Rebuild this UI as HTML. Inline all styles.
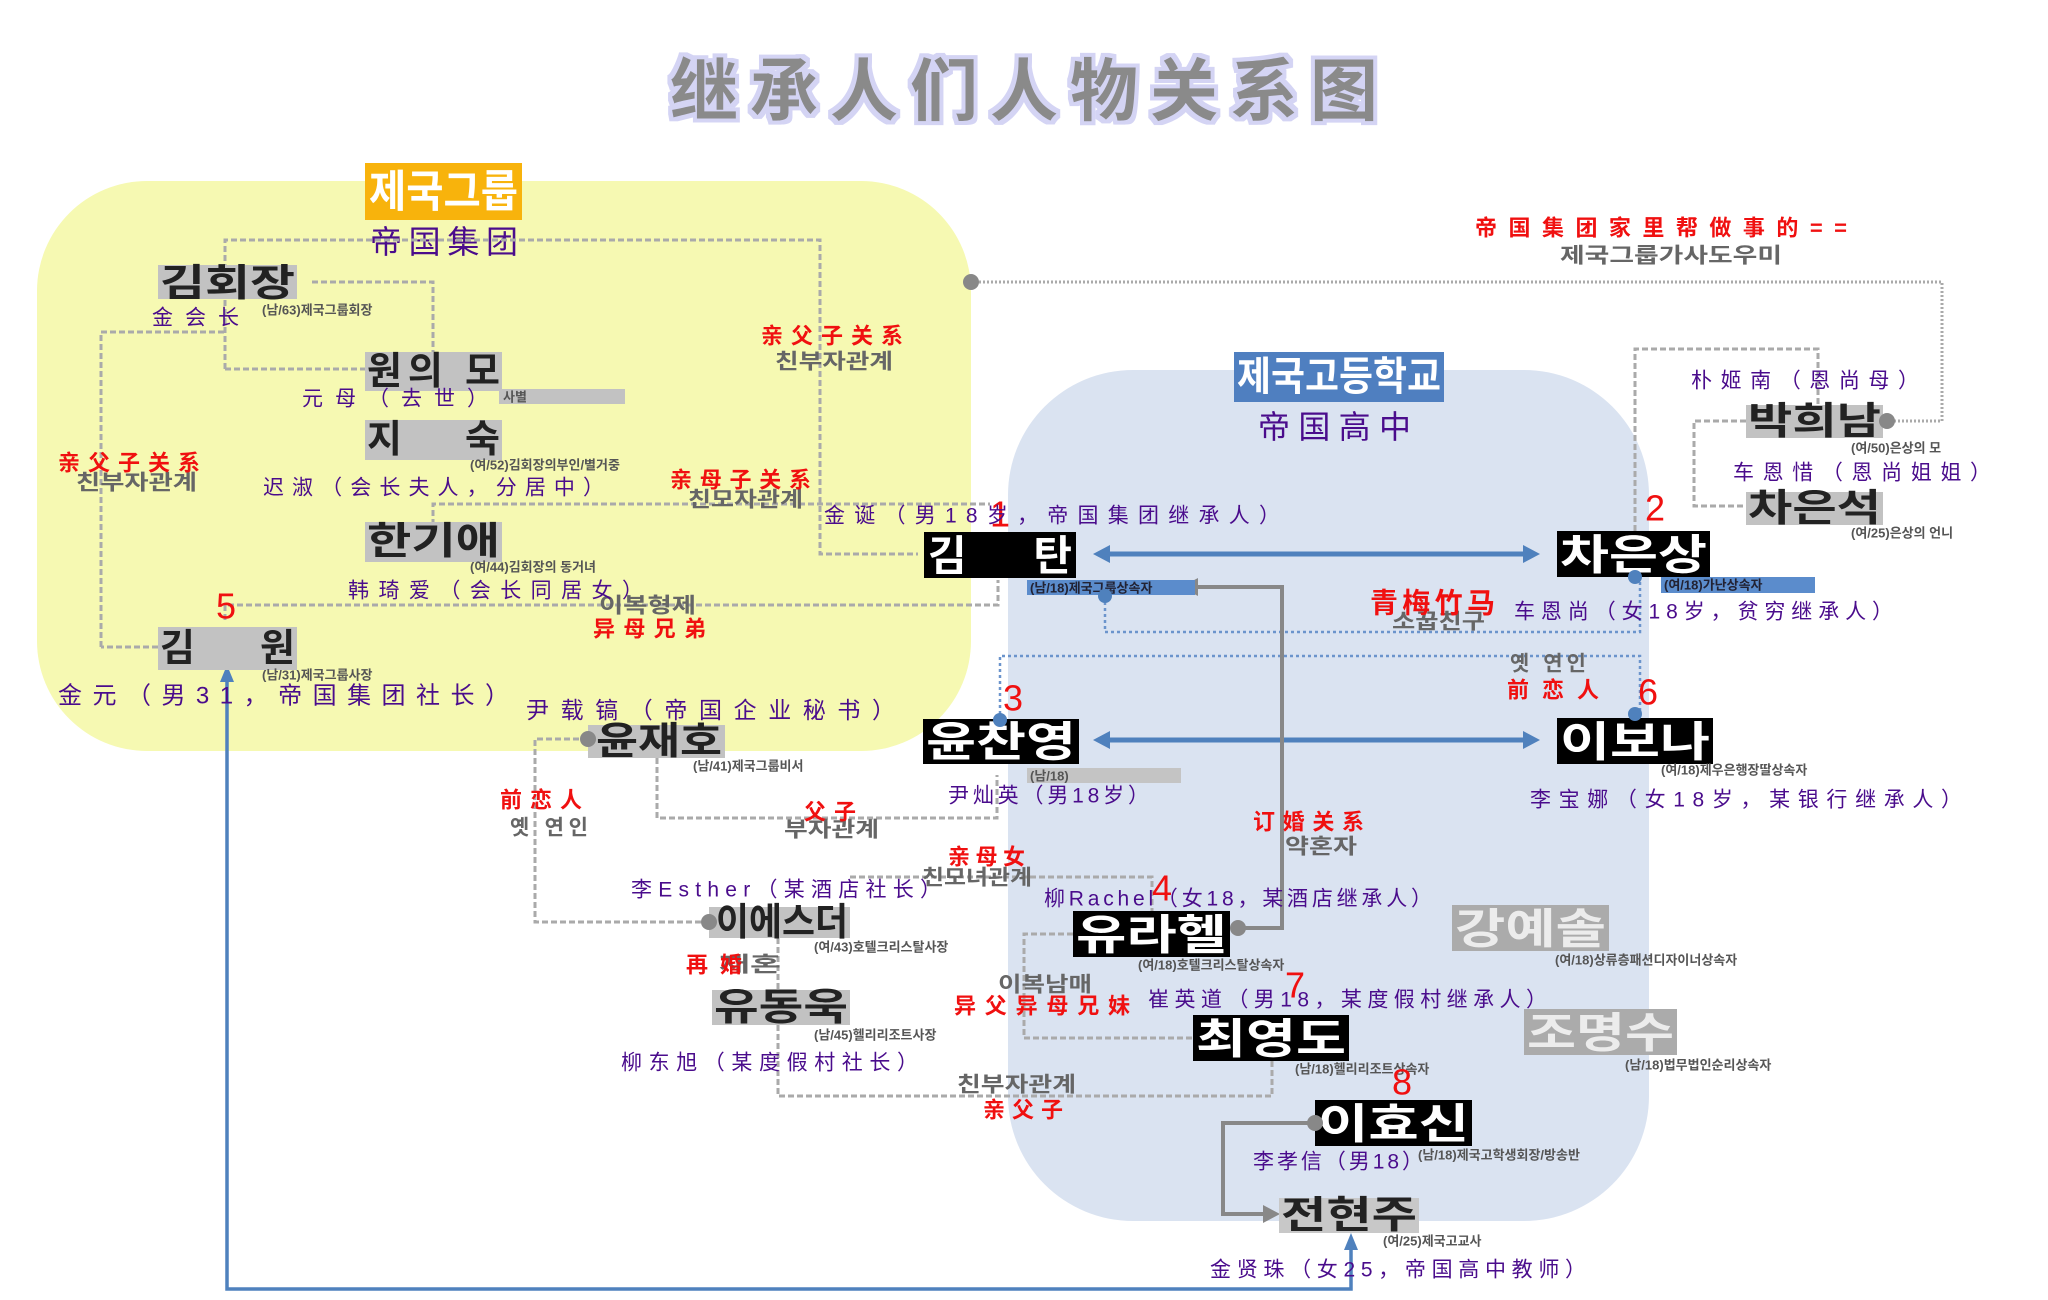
<!DOCTYPE html>
<html><head><meta charset="utf-8">
<style>
html,body{margin:0;padding:0;background:#fff;}
svg{display:block;}
.cn{font-family:"Liberation Sans","Noto Sans CJK SC",sans-serif;fill:#4a0c8c;font-size:21px;}
.red{font-family:"Liberation Sans","Noto Sans CJK SC",sans-serif;fill:#f01010;font-size:22px;font-weight:bold;}
.kr{font-family:"Liberation Sans","Noto Sans CJK KR",sans-serif;font-weight:bold;}
.gk{font-family:"Liberation Sans","Noto Sans CJK KR",sans-serif;fill:#666;font-size:21px;font-weight:bold;}
.sub{font-family:"Liberation Sans","Noto Sans CJK KR",sans-serif;fill:#555;font-size:13px;font-weight:bold;}
.num{font-family:"Liberation Sans",sans-serif;fill:#f01010;font-size:36px;}
</style></head>
<body>
<svg width="2048" height="1300" viewBox="0 0 2048 1300" xmlns="http://www.w3.org/2000/svg">
<defs>
<filter id="glow" x="-10%" y="-20%" width="120%" height="140%">
<feMorphology operator="dilate" radius="4" in="SourceAlpha" result="d"/>
<feFlood flood-color="#d4d4f4"/><feComposite in2="d" operator="in" result="g"/>
<feMerge><feMergeNode in="g"/><feMergeNode in="SourceGraphic"/></feMerge>
</filter>
</defs>

<!-- title -->
<text x="670" y="92" class="kr" filter="url(#glow)" style="font-family:'Liberation Sans','Noto Sans CJK SC',sans-serif;font-size:68px;font-weight:bold;fill:#8a8a8a" dominant-baseline="central" textLength="708" lengthAdjust="spacing">继承人们人物关系图</text>

<!-- regions -->
<rect x="37" y="181" width="934" height="570" rx="110" fill="#f6f9b2"/>
<rect x="1008" y="370" width="641" height="851" rx="125" fill="#dae3f1"/>

<!-- region labels -->
<rect x="365" y="163" width="157" height="57" fill="#f8b30c"/>
<text x="369" y="192" class="kr" style="font-size:44px;fill:#fff" dominant-baseline="central" textLength="149" lengthAdjust="spacingAndGlyphs">제국그룹</text>
<text x="370" y="242" class="cn" style="font-size:32px" dominant-baseline="central" textLength="148" lengthAdjust="spacing">帝国集团</text>
<rect x="1234" y="352" width="210" height="50" fill="#4f7fc0"/>
<text x="1237" y="377" class="kr" style="font-size:40px;fill:#fff" dominant-baseline="central" textLength="204" lengthAdjust="spacingAndGlyphs">제국고등학교</text>
<text x="1258" y="427" class="cn" style="font-size:32px" dominant-baseline="central" textLength="153" lengthAdjust="spacing">帝国高中</text>

<!-- gray dashed lines -->
<g fill="none" stroke="#aaa" stroke-width="3" stroke-dasharray="6,3">
<polyline points="225,369 225,240 820,240 820,554 918,554"/>
<polyline points="312,282 433,282 433,353"/>
<polyline points="225,369 365,369"/>
<polyline points="101,647 101,332 225,332"/>
<polyline points="158,647 101,647"/>
<polyline points="433,525 433,504 990,504"/>
<polyline points="225,620 225,605 998,605 998,580"/>
<polyline points="588,739 535,739 535,922 709,922"/>
<polyline points="657,758 657,818 997,818 997,775"/>
<polyline points="850,877 1152,877 1152,911"/>
<polyline points="778,938 778,990"/>
<polyline points="778,1025 778,1096 1272,1096 1272,1061"/>
<polyline points="1073,934 1024,934 1024,1038 1193,1038"/>
<polyline points="1635,531 1635,349 1818,349 1818,405"/>
<polyline points="1746,421 1694,421 1694,506 1746,506"/>
</g>
<polyline points="971,282 1942,282 1942,421 1887,421" fill="none" stroke="#aaa" stroke-width="3" stroke-dasharray="2,2"/>
<circle cx="971" cy="282" r="8" fill="#888"/>

<!-- blue dotted lines -->
<g fill="none" stroke="#6b94cc" stroke-width="2.5" stroke-dasharray="3,3">
<polyline points="1105,596 1105,632 1640,632 1640,577"/>
<polyline points="1000,720 1000,656 1640,656 1640,714"/>
</g>

<!-- blue arrows -->
<g stroke="#4f81bd" stroke-width="5" fill="#4f81bd">
<line x1="1105" y1="554" x2="1525" y2="554"/>
<polygon points="1093,554 1110,545 1110,563" stroke="none"/>
<polygon points="1540,554 1523,545 1523,563" stroke="none"/>
<line x1="1105" y1="740" x2="1525" y2="740"/>
<polygon points="1093,740 1110,731 1110,749" stroke="none"/>
<polygon points="1540,740 1523,731 1523,749" stroke="none"/>
</g>
<polyline points="227,680 227,1289 1351,1289 1351,1245" fill="none" stroke="#4f81bd" stroke-width="3.5"/>
<polygon points="227,665 220,682 234,682" fill="#4f81bd"/>
<polygon points="1351,1233 1344,1250 1358,1250" fill="#4f81bd"/>

<!-- gray solid arrows -->
<polyline points="1238,928 1282,928 1282,587 1195,587" fill="none" stroke="#888" stroke-width="4"/>
<polygon points="1181,587 1198,578 1198,596" fill="#888"/>
<polyline points="1315,1123 1223,1123 1223,1214 1265,1214" fill="none" stroke="#888" stroke-width="4"/>
<polygon points="1280,1214 1263,1205 1263,1223" fill="#888"/>

<!-- gray nodes (yellow region) -->
<g class="kr" style="font-size:38px;fill:#222">
<rect x="158" y="265" width="139" height="34" fill="#c2c2c2"/>
<text x="160" y="284" dominant-baseline="central" textLength="135" lengthAdjust="spacingAndGlyphs">김회장</text>
<rect x="365" y="352" width="137" height="39" fill="#c2c2c2"/>
<text x="367" y="372" dominant-baseline="central" textLength="133" lengthAdjust="spacing">원의 모</text>
<rect x="499" y="389" width="126" height="15" fill="#c2c2c2"/>
<rect x="365" y="420" width="137" height="40" fill="#c2c2c2"/>
<text x="367" y="440" dominant-baseline="central" textLength="133" lengthAdjust="spacing">지  숙</text>
<rect x="365" y="522" width="137" height="40" fill="#c2c2c2"/>
<text x="367" y="542" dominant-baseline="central" textLength="133" lengthAdjust="spacingAndGlyphs">한기애</text>
<rect x="158" y="627" width="139" height="43" fill="#c2c2c2"/>
<text x="160" y="649" dominant-baseline="central" textLength="135" lengthAdjust="spacing">김  원</text>
<rect x="588" y="725" width="137" height="33" fill="#c2c2c2"/>
<text x="596" y="742" dominant-baseline="central" textLength="126" lengthAdjust="spacingAndGlyphs">윤재호</text>
<rect x="709" y="907" width="141" height="31" fill="#c2c2c2"/>
<text x="716" y="923" dominant-baseline="central" textLength="132" lengthAdjust="spacingAndGlyphs">이에스더</text>
<rect x="712" y="990" width="138" height="35" fill="#c2c2c2"/>
<text x="714" y="1008" dominant-baseline="central" textLength="134" lengthAdjust="spacingAndGlyphs">유동욱</text>
<rect x="1746" y="405" width="137" height="33" fill="#c2c2c2"/>
<text x="1748" y="422" dominant-baseline="central" textLength="133" lengthAdjust="spacingAndGlyphs">박희남</text>
<rect x="1746" y="492" width="137" height="33" fill="#c2c2c2"/>
<text x="1748" y="509" dominant-baseline="central" textLength="133" lengthAdjust="spacingAndGlyphs">차은석</text>
<rect x="1279" y="1198" width="140" height="35" fill="#c8c8c8"/>
<text x="1281" y="1216" dominant-baseline="central" textLength="136" lengthAdjust="spacingAndGlyphs">전현주</text>
</g>
<text x="503" y="397" class="sub" dominant-baseline="central">사별</text>

<!-- black nodes -->
<g class="kr" style="font-size:42px;fill:#fff">
<rect x="924" y="532" width="152" height="46" fill="#000"/>
<text x="928" y="556" dominant-baseline="central" textLength="144" lengthAdjust="spacing">김  탄</text>
<rect x="1557" y="531" width="153" height="46" fill="#000"/>
<text x="1560" y="555" dominant-baseline="central" textLength="147" lengthAdjust="spacingAndGlyphs">차은상</text>
<rect x="923" y="719" width="156" height="45" fill="#000"/>
<text x="926" y="742" dominant-baseline="central" textLength="150" lengthAdjust="spacingAndGlyphs">윤찬영</text>
<rect x="1557" y="718" width="156" height="46" fill="#000"/>
<text x="1560" y="742" dominant-baseline="central" textLength="150" lengthAdjust="spacingAndGlyphs">이보나</text>
<rect x="1073" y="911" width="157" height="46" fill="#000"/>
<text x="1076" y="935" dominant-baseline="central" textLength="151" lengthAdjust="spacingAndGlyphs">유라헬</text>
<rect x="1193" y="1015" width="156" height="46" fill="#000"/>
<text x="1196" y="1039" dominant-baseline="central" textLength="150" lengthAdjust="spacingAndGlyphs">최영도</text>
<rect x="1315" y="1100" width="157" height="46" fill="#000"/>
<text x="1318" y="1124" dominant-baseline="central" textLength="151" lengthAdjust="spacingAndGlyphs">이효신</text>
</g>
<g class="kr" style="font-size:42px;fill:#ececec">
<rect x="1452" y="905" width="157" height="46" fill="#ababab"/>
<text x="1455" y="929" dominant-baseline="central" textLength="151" lengthAdjust="spacingAndGlyphs">강예솔</text>
<rect x="1524" y="1009" width="153" height="46" fill="#ababab"/>
<text x="1527" y="1033" dominant-baseline="central" textLength="147" lengthAdjust="spacingAndGlyphs">조명수</text>
</g>

<!-- subtitle bars -->
<rect x="1027" y="580" width="168" height="15" fill="#5b8ccc"/>
<rect x="1661" y="577" width="154" height="16" fill="#5b8ccc"/>
<rect x="1027" y="768" width="154" height="15" fill="#c4c4c4"/>

<!-- subtitles -->
<g class="sub" dominant-baseline="central">
<text x="262" y="310">(남/63)제국그룹회장</text>
<text x="470" y="465">(여/52)김회장의부인/별거중</text>
<text x="470" y="567">(여/44)김회장의 동거녀</text>
<text x="262" y="675">(남/31)제국그룹사장</text>
<text x="693" y="766">(남/41)제국그룹비서</text>
<text x="814" y="947">(여/43)호텔크리스탈사장</text>
<text x="814" y="1035">(남/45)헬리리조트사장</text>
<text x="1030" y="588" style="fill:#223">(남/18)제국그룹상속자</text>
<text x="1664" y="585" style="fill:#223">(여/18)가난상속자</text>
<text x="1030" y="776">(남/18)</text>
<text x="1851" y="448">(여/50)은상의 모</text>
<text x="1851" y="533">(여/25)은상의 언니</text>
<text x="1661" y="770">(여/18)제우은행장딸상속자</text>
<text x="1138" y="965">(여/18)호텔크리스탈상속자</text>
<text x="1555" y="960">(여/18)상류층패션디자이너상속자</text>
<text x="1295" y="1069">(남/18)헬리리조트상속자</text>
<text x="1625" y="1065">(남/18)법무법인순리상속자</text>
<text x="1418" y="1155">(남/18)제국고학생회장/방송반</text>
<text x="1383" y="1241">(여/25)제국고교사</text>
</g>

<!-- dots -->
<g fill="#888">
<circle cx="588" cy="739" r="8"/><circle cx="709" cy="922" r="8"/>
<circle cx="1887" cy="421" r="8"/><circle cx="1238" cy="928" r="8"/>
<circle cx="1315" cy="1123" r="8"/>
</g>
<g fill="#4f81bd">
<circle cx="1105" cy="596" r="7"/><circle cx="1635" cy="577" r="7"/>
<circle cx="1000" cy="720" r="7"/><circle cx="1635" cy="714" r="7"/>
</g>

<!-- numbers -->
<g class="num" dominant-baseline="central">
<text x="990" y="514">1</text><text x="1645" y="508">2</text>
<text x="1003" y="698">3</text><text x="1152" y="888">4</text>
<text x="216" y="606">5</text><text x="1638" y="692">6</text>
<text x="1285" y="985">7</text><text x="1392" y="1082">8</text>
</g>

<!-- korean gray relation labels -->
<g class="gk" dominant-baseline="central">
<text x="76" y="483" textLength="121" lengthAdjust="spacingAndGlyphs">친부자관계</text>
<text x="775" y="362" textLength="118" lengthAdjust="spacingAndGlyphs">친부자관계</text>
<text x="688" y="500" textLength="115" lengthAdjust="spacingAndGlyphs">친모자관계</text>
<text x="599" y="606" textLength="97" lengthAdjust="spacingAndGlyphs">이복형제</text>
<text x="1560" y="256" textLength="222" lengthAdjust="spacingAndGlyphs">제국그룹가사도우미</text>
<text x="1392" y="622" textLength="93" lengthAdjust="spacingAndGlyphs">소꿉친구</text>
<text x="1510" y="664" textLength="76" lengthAdjust="spacing">옛 연인</text>
<text x="510" y="828" textLength="78" lengthAdjust="spacing">옛 연인</text>
<text x="784" y="830" textLength="95" lengthAdjust="spacingAndGlyphs">부자관계</text>
<text x="922" y="878" textLength="110" lengthAdjust="spacingAndGlyphs">친모녀관계</text>
<text x="1285" y="847" textLength="72" lengthAdjust="spacingAndGlyphs">약혼자</text>
<text x="719" y="965" textLength="62" lengthAdjust="spacingAndGlyphs">재혼</text>
<text x="998" y="985" textLength="94" lengthAdjust="spacingAndGlyphs">이복남매</text>
<text x="957" y="1085" textLength="119" lengthAdjust="spacingAndGlyphs">친부자관계</text>
</g>

<!-- red labels -->
<g class="red" dominant-baseline="central">
<text x="58" y="463" textLength="142" lengthAdjust="spacing">亲父子关系</text>
<text x="761" y="336" textLength="142" lengthAdjust="spacing">亲父子关系</text>
<text x="670" y="480" textLength="141" lengthAdjust="spacing">亲母子关系</text>
<text x="593" y="629" textLength="113" lengthAdjust="spacing">异母兄弟</text>
<text x="1475" y="228" textLength="372" lengthAdjust="spacing">帝国集团家里帮做事的==</text>
<text x="1370" y="603" style="font-size:28px" textLength="125" lengthAdjust="spacing">青梅竹马</text>
<text x="1507" y="690" textLength="92" lengthAdjust="spacing">前恋人</text>
<text x="500" y="800" textLength="82" lengthAdjust="spacing">前恋人</text>
<text x="804" y="812" textLength="52" lengthAdjust="spacing">父子</text>
<text x="948" y="857" textLength="77" lengthAdjust="spacing">亲母女</text>
<text x="1253" y="822" textLength="111" lengthAdjust="spacing">订婚关系</text>
<text x="686" y="965" textLength="56" lengthAdjust="spacing">再婚</text>
<text x="954" y="1006" textLength="176" lengthAdjust="spacing">异父异母兄妹</text>
<text x="983" y="1110" textLength="80" lengthAdjust="spacing">亲父子</text>
</g>

<!-- purple chinese annotations -->
<g class="cn" dominant-baseline="central">
<text x="152" y="318" textLength="87" lengthAdjust="spacing">金会长</text>
<text x="302" y="399" textLength="186" lengthAdjust="spacing">元母（去世）</text>
<text x="263" y="488" textLength="341" lengthAdjust="spacing">迟淑（会长夫人，分居中）</text>
<text x="348" y="591" textLength="295" lengthAdjust="spacing">韩琦爱（会长同居女）</text>
<text x="58" y="696" style="font-size:24px" textLength="451" lengthAdjust="spacing">金元（男31，帝国集团社长）</text>
<text x="526" y="710" style="font-size:23px" textLength="369" lengthAdjust="spacing">尹载镐（帝国企业秘书）</text>
<text x="824" y="516" textLength="456" lengthAdjust="spacing">金诞（男18岁，帝国集团继承人）</text>
<text x="1691" y="381" textLength="228" lengthAdjust="spacing">朴姬南（恩尚母）</text>
<text x="1733" y="473" textLength="258" lengthAdjust="spacing">车恩惜（恩尚姐姐）</text>
<text x="1514" y="612" textLength="379" lengthAdjust="spacing">车恩尚（女18岁，贫穷继承人）</text>
<text x="948" y="796" textLength="201" lengthAdjust="spacing">尹灿英（男18岁）</text>
<text x="1530" y="800" textLength="432" lengthAdjust="spacing">李宝娜（女18岁，某银行继承人）</text>
<text x="631" y="890" textLength="310" lengthAdjust="spacing">李Esther（某酒店社长）</text>
<text x="1044" y="899" textLength="388" lengthAdjust="spacing">柳Rachel（女18，某酒店继承人）</text>
<text x="1148" y="1000" textLength="399" lengthAdjust="spacing">崔英道（男18，某度假村继承人）</text>
<text x="621" y="1063" textLength="297" lengthAdjust="spacing">柳东旭（某度假村社长）</text>
<text x="1253" y="1162" textLength="170" lengthAdjust="spacing">李孝信（男18）</text>
<text x="1210" y="1270" textLength="376" lengthAdjust="spacing">金贤珠（女25，帝国高中教师）</text>
</g>
</svg>
</body></html>
